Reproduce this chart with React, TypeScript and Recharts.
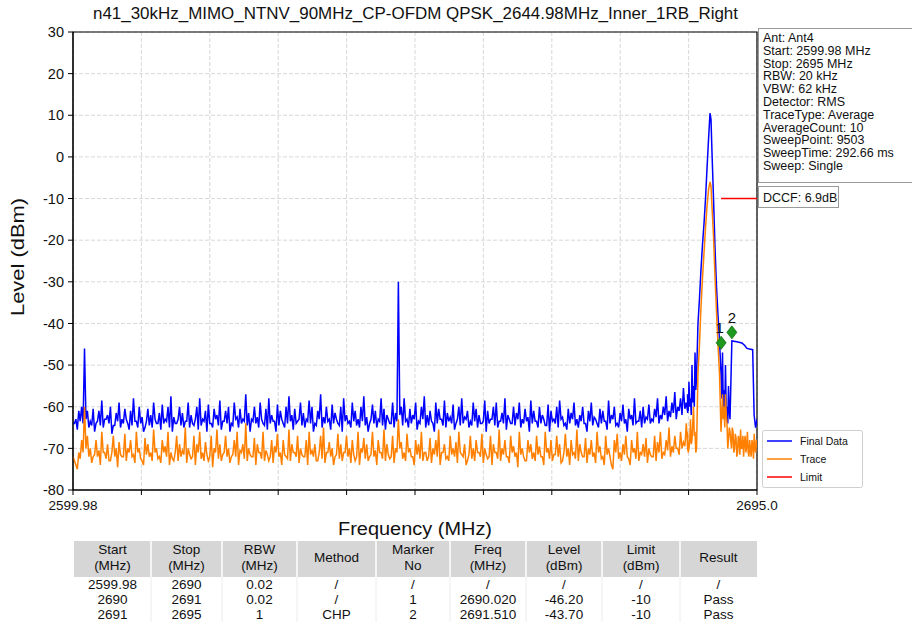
import React from 'react';
import { ComposedChart, Line, Scatter, XAxis, YAxis, CartesianGrid, ReferenceArea } from 'recharts';

const title = 'n41_30kHz_MIMO_NTNV_90MHz_CP-OFDM QPSK_2644.98MHz_Inner_1RB_Right';

// sweep grid of the noise floor part (MHz): each bin has a high and a low reading
const sweepStart = 2599.98;
const sweepStop = 2695;
const floorStep = 0.4;

// Final Data noise floor, bin highs, 2599.98 .. 2685.18 MHz
const blueFloorHi = [
  -64, -63, -61, -60, -46, -61, -63.5, -60.5, -64, -61, -58.5, -63, -62, -60, -64.5, -61.5, -59, -63, -60.5, -64,
  -61, -58, -63.5, -60, -62.5, -65, -60.5, -62, -59, -64, -61.5, -59.5, -63, -60, -57.5, -62.5, -64, -60, -61.5, -63.5,
  -59, -62, -64.5, -60, -58, -63, -61, -59.5, -64, -60.5, -62, -58.5, -63.5, -61, -60, -64, -59, -62.5, -60.5, -63,
  -57, -61.5, -63, -60, -62.5, -59, -64, -60.5, -58, -62, -63.5, -59.5, -61, -64, -60, -57.5, -62, -60.5, -63.5, -59,
  -61.5, -63, -58.5, -60, -64, -61, -57, -62.5, -60, -63, -59.5, -61.5, -64, -60, -58, -62, -63.5, -59, -61, -63,
  -60, -57.5, -62.5, -64, -59.5, -61, -63, -58, -60.5, -62, -64, -59, -61.5, -30, -60, -58, -63, -60.5, -62, -59,
  -63.5, -60, -57.5, -62, -61, -64, -59, -60.5, -63, -58.5, -61.5, -62.5, -59.5, -64, -60, -58, -62.5, -61, -63.5, -59,
  -60.5, -62, -64, -58.5, -61, -63, -60, -59, -63.5, -61.5, -58, -62, -64, -60, -61.5, -59, -63, -60.5, -62.5, -58.5,
  -61, -63.5, -60, -62, -64.5, -59.5, -61, -63, -60, -58.5, -62.5, -64, -60.5, -61.5, -59, -63, -62, -60, -64, -61,
  -59, -62.5, -64, -60.5, -61, -63.5, -58.5, -62, -60, -64, -61.5, -59.5, -63, -60.5, -62, -58, -63.5, -61, -60, -62.5,
  -59.5, -63, -60.5, -58, -62, -60, -57.5, -61, -59, -56.5, -60, -58, -55.5, -59,
];
// Final Data noise floor, bin lows
const blueFloorLo = [
  -64, -65.5, -63.5, -64, -63, -65, -64.5, -66, -63.5, -64.5, -65, -63, -64, -66.5, -64.5, -63.5, -65, -64, -63, -65.5,
  -64.5, -63.5, -65, -64, -66, -63.5, -64.5, -65, -63, -64, -65.5, -64, -63.5, -65, -66, -64, -63, -64.5, -65, -63.5,
  -65, -64, -63, -65.5, -64.5, -63.5, -66, -64, -65, -63, -64.5, -65.5, -63.5, -64, -66, -64.5, -63, -65, -64, -63.5,
  -64.5, -66, -63.5, -64, -65, -63, -64.5, -65.5, -64, -63.5, -66, -64.5, -63, -65, -64, -63.5, -65.5, -64, -63, -64.5,
  -65, -63.5, -64, -66, -64.5, -63, -65, -64, -63.5, -65.5, -64, -63, -64.5, -66, -63.5, -64, -65, -63.5, -64.5, -65,
  -63.5, -64.5, -66, -63, -64, -65, -63.5, -64.5, -65.5, -63, -64, -65, -63.5, -62, -64.5, -63.5, -65, -64, -63, -65.5,
  -64, -63, -65, -64.5, -63.5, -66, -64, -63, -64.5, -65, -63.5, -64, -65.5, -63, -64.5, -64, -63, -65, -64.5, -63.5,
  -65, -64, -63.5, -66, -64, -63, -64.5, -65, -63.5, -64, -65.5, -63, -64, -64.5, -63, -65, -64, -63.5, -66, -64,
  -63.5, -65, -64, -63, -64.5, -66, -63.5, -64, -65, -63, -64.5, -65.5, -64, -63, -64.5, -65, -63.5, -64, -66, -63.5,
  -64.5, -63, -65, -64, -63.5, -65.5, -64, -63, -64.5, -65, -63.5, -64, -66, -63, -64.5, -64, -63.5, -65, -64, -63,
  -64, -63.5, -62.5, -64, -63, -62, -63.5, -62.5, -61.5, -63, -61, -62, -60.5, -61.5,
];

// Trace noise floor, bin highs
const orangeFloorHi = [
  -72, -74, -71, -68, -60, -67, -70, -72, -68, -70.5, -66, -71, -69, -73, -67, -70, -68.5, -72, -66.5, -70,
  -68, -71.5, -66, -70, -73, -67.5, -69, -71, -65.5, -70, -72, -68, -69.5, -66, -71, -73, -67, -69, -70.5, -65,
  -70, -72.5, -67, -69, -66, -71, -68.5, -73, -67, -70, -65.5, -69, -71.5, -67, -70, -72, -68, -66, -70.5, -69,
  -64, -70, -72, -67.5, -69, -71, -66, -70.5, -73, -68, -69.5, -66.5, -71, -68, -72, -65.5, -69, -71, -67, -70,
  -72, -68, -66, -70.5, -69, -73, -67, -65, -71, -68.5, -70, -72, -66.5, -69, -71, -67, -70, -68, -73, -66,
  -70, -67.5, -69, -72, -66, -70.5, -68, -71, -65.5, -69, -72.5, -67, -70, -63, -68.5, -71, -66.5, -70, -72, -68,
  -69, -66, -71, -73, -67.5, -70, -68, -65.5, -71, -69, -72, -67, -70, -68.5, -66, -71.5, -69, -73, -67, -70,
  -68, -71, -66.5, -70, -72.5, -67, -69, -71, -65.5, -70, -68, -72, -67, -69.5, -71, -66, -70, -73, -68, -69,
  -71, -67, -69.5, -72, -66, -70, -68, -71.5, -67, -69, -73, -66.5, -70, -68, -71, -65.5, -69, -72, -67.5, -70,
  -68, -71, -66, -69.5, -72, -67, -70, -74, -68, -66.5, -71, -69, -67, -72.5, -68, -70, -66, -71, -69, -67.5,
  -70, -72, -67, -68.5, -66, -71, -68, -65, -69.5, -67, -70, -66, -68.5, -64,
];
// Trace noise floor, bin lows
const orangeFloorLo = [
  -73, -75, -72.5, -71, -70, -72, -73.5, -71.5, -72, -74, -71, -72.5, -73, -71, -72, -74.5, -71.5, -72, -73, -71,
  -72, -73.5, -71, -72.5, -74, -71.5, -72, -73, -71, -72.5, -73.5, -71, -72, -74, -72.5, -71, -73, -72, -71.5, -73.5,
  -71.5, -72, -74, -71, -72.5, -73, -71.5, -72, -74.5, -71, -72.5, -73, -71, -72, -73.5, -71.5, -72, -74, -71, -72.5,
  -73, -71.5, -72, -74, -71, -72.5, -73, -71.5, -72, -73.5, -71, -72, -74, -71.5, -72.5, -73, -71, -72, -73.5, -71.5,
  -72, -74, -71.5, -72, -73, -71, -72.5, -73.5, -71, -72, -74, -71.5, -72.5, -73, -71, -72, -73.5, -71.5, -72, -74,
  -71, -72.5, -73, -71.5, -72, -74, -71, -72.5, -73, -71.5, -72, -73.5, -71, -70, -72.5, -73, -71, -72, -74, -71.5,
  -72.5, -73, -71, -72, -73.5, -71.5, -72, -74, -71, -72.5, -73, -71.5, -72, -73.5, -71, -72, -74, -71.5, -72.5, -73,
  -71, -72, -73.5, -71.5, -72, -74, -71, -72.5, -73, -71.5, -72, -73.5, -71, -72, -74.5, -71.5, -72, -73, -71, -72.5,
  -73, -71.5, -72, -74, -71, -72.5, -73, -71.5, -72, -73.5, -71, -72, -74, -71.5, -72.5, -73, -71, -72, -73.5, -71.5,
  -72, -73.5, -71, -72.5, -74, -71.5, -72, -75, -71, -72.5, -73, -71.5, -72, -74, -71, -72.5, -73, -71.5, -72, -73.5,
  -71.5, -72, -73, -71, -72.5, -71.5, -70.5, -72, -71, -70, -71.5, -70, -69.5, -70.5,
];

// carrier region
const peakFreq = [
  2685.35, 2685.45, 2685.55, 2685.66, 2685.76, 2685.87, 2685.97, 2686.08, 2686.18, 2686.29,
  2686.39, 2686.5, 2686.6, 2686.8, 2687.01, 2687.22, 2687.43, 2687.64, 2687.85, 2688.05,
  2688.26, 2688.47, 2688.61, 2688.75, 2688.96, 2689.17, 2689.37, 2689.58, 2689.79, 2690.0,
  2690.1, 2690.21, 2690.31, 2690.42, 2690.52, 2690.62, 2690.73, 2690.83, 2690.94, 2691.04,
  2691.15, 2691.25,
];
const bluePeak = [
  -57, -61, -54, -60, -58, -62, -50, -59, -55, -60,
  -47, -56, -53, -40, -34, -27, -21, -16, -10, -3,
  4, 10.5, 9, 1, -10, -22, -31, -38, -44, -52,
  -58, -47, -60, -56, -62, -50, -61, -60, -64, -55,
  -61, -63,
];
const orangePeak = [
  -66, -71, -70, -68, -63, -69, -68, -64, -60, -67,
  -66, -71, -70, -52, -45, -36, -29, -23, -17, -12,
  -8, -6, -7, -12, -19, -29, -37, -45, -52, -66,
  -62, -57, -63, -60, -65, -57, -62, -64, -70, -68,
  -65, -66,
];

const orangeTailFreq = [
  2691.46, 2691.56, 2691.67, 2691.77, 2691.88, 2691.98, 2692.09, 2692.2, 2692.3, 2692.41, 2692.51,
  2692.62, 2692.72, 2692.83, 2692.93, 2693.04, 2693.14, 2693.25, 2693.35, 2693.46, 2693.56, 2693.67,
  2693.77, 2693.88, 2693.98, 2694.09, 2694.19, 2694.3, 2694.4, 2694.51, 2694.61, 2694.72, 2694.82, 2694.92, 2695,
];
const orangeTail = [
  -70, -65, -66, -71, -70, -66.5, -67.5, -72, -71, -67, -68, -71.5, -65.5, -70, -70, -67,
  -72, -68.5, -67, -71, -69.5, -66, -71, -72, -68, -70.5, -72, -68, -69, -72.5, -66.5, -70, -71, -68, -70,
];

// CHP segment of Final Data (RBW 1 MHz)
const chpFreq = [2691.51, 2692.2, 2692.9, 2693.3, 2693.6, 2694.4, 2694.6, 2694.8, 2695];
const chpLevel = [-44.2, -44.4, -44.7, -45.3, -46.0, -46.3, -62, -65, -63];

const limitFreq = [2690, 2695];
const limitLevel = [-10, -10];

const markerNo = ['1', '2'];
const markerFreq = [2690.02, 2691.51];
const markerLevel = [-46.2, -43.7];

const yTicks = [-80, -70, -60, -50, -40, -30, -20, -10, 0, 10, 20, 30];
const xTicks = [2599.98, 2609.482, 2618.984, 2628.486, 2637.988, 2647.49, 2656.992, 2666.494, 2675.996, 2685.498, 2695];
const xTickLabels = ['2599.98', '', '', '', '', '', '', '', '', '', '2695.0'];

const infoLines = [
  'Ant: Ant4',
  'Start: 2599.98 MHz',
  'Stop: 2695 MHz',
  'RBW: 20 kHz',
  'VBW: 62 kHz',
  'Detector: RMS',
  'TraceType: Average',
  'AverageCount: 10',
  'SweepPoint: 9503',
  'SweepTime: 292.66 ms',
  'Sweep: Single',
];
const dccfText = 'DCCF: 6.9dB';

const legendNames = ['Final Data', 'Trace', 'Limit'];
const legendColors = ['#0000ff', '#ff8000', '#ff0000'];

const tableHeader = [
  ['Start', '(MHz)'], ['Stop', '(MHz)'], ['RBW', '(MHz)'], ['Method'], ['Marker', 'No'],
  ['Freq', '(MHz)'], ['Level', '(dBm)'], ['Limit', '(dBm)'], ['Result'],
];
const tableRows = [
  ['2599.98', '2690', '0.02', '/', '/', '/', '/', '/', '/'],
  ['2690', '2691', '0.02', '/', '1', '2690.020', '-46.20', '-10', 'Pass'],
  ['2691', '2695', '1', 'CHP', '2', '2691.510', '-43.70', '-10', 'Pass'],
];

const FONT = '"Liberation Sans", Arial, sans-serif';

// each floor bin -> its high reading, then its low reading half a bin later
const floorPoints = (hi: number[], lo: number[]) =>
  hi.flatMap((v, i) => {
    const f = sweepStart + i * floorStep;
    return [
      { f: +f.toFixed(2), v },
      { f: +(f + floorStep / 2).toFixed(2), v: lo[i] },
    ];
  });

const blueData = [
  ...floorPoints(blueFloorHi, blueFloorLo),
  ...peakFreq.map((f, i) => ({ f, v: bluePeak[i] })),
  ...chpFreq.map((f, i) => ({ f, v: chpLevel[i] })),
];
const orangeData = [
  ...floorPoints(orangeFloorHi, orangeFloorLo),
  ...peakFreq.map((f, i) => ({ f, v: orangePeak[i] })),
  ...orangeTailFreq.map((f, i) => ({ f, v: orangeTail[i] })),
];
const limitData = limitFreq.map((f, i) => ({ f, v: limitLevel[i] }));
const markerData = markerFreq.map((f, i) => ({ f, v: markerLevel[i], n: markerNo[i] }));

// diamond sits with its lower tip on the marker value
const MarkerShape = (props: any) => {
  const { cx, cy, payload } = props;
  if (cx == null || cy == null) return null;
  const dx = payload.n === '1' ? -1.5 : 0;
  return (
    <g>
      <polygon
        points={`${cx},${cy - 13} ${cx + 5},${cy - 6.5} ${cx},${cy} ${cx - 5},${cy - 6.5}`}
        fill="#1f9a1f"
        stroke="#127012"
        strokeWidth={0.8}
      />
      <text x={cx + dx} y={cy - 16} textAnchor="middle" fontSize={15} fontFamily={FONT} fill="#111">
        {payload.n}
      </text>
    </g>
  );
};

const colEdges = [74, 151, 222, 297, 376, 450, 526, 602, 680, 757];

const Overlay = () => (
  <svg width={912} height={631} style={{ position: 'absolute', left: 0, top: 0, pointerEvents: 'none' }}>
    <g fontFamily={FONT} fill="#111">
      <text x={415.5} y={19} textAnchor="middle" fontSize={16} textLength={645} lengthAdjust="spacingAndGlyphs">
        {title}
      </text>
      <text x={415} y={535} textAnchor="middle" fontSize={18} textLength={154} lengthAdjust="spacingAndGlyphs">
        Frequency (MHz)
      </text>
      <text
        transform="translate(24,257) rotate(-90)"
        textAnchor="middle"
        fontSize={18}
        textLength={118}
        lengthAdjust="spacingAndGlyphs"
      >
        Level (dBm)
      </text>

      {/* settings box */}
      <rect x={758.5} y={28.5} width={160} height={154} fill="#fff" stroke="#9a9a9a" />
      {infoLines.map((s, i) => (
        <text key={s} x={763} y={42 + i * 12.8} fontSize={12.5}>
          {s}
        </text>
      ))}
      <rect x={758.5} y={186.5} width={80} height={21} fill="#fff" stroke="#9a9a9a" />
      <text x={763} y={202} fontSize={12.5}>
        {dccfText}
      </text>

      {/* legend */}
      <rect x={762.5} y={430.5} width={100} height={57} rx={2} fill="#fff" stroke="#cfcfcf" />
      {legendNames.map((s, i) => (
        <g key={s}>
          <line x1={767} x2={792} y1={441 + i * 18} y2={441 + i * 18} stroke={legendColors[i]} strokeWidth={1.5} />
          <text x={800} y={445 + i * 18} fontSize={10.5}>
            {s}
          </text>
        </g>
      ))}

      {/* result table */}
      <rect x={colEdges[0]} y={541} width={colEdges[9] - colEdges[0]} height={36} fill="#d6d6d6" />
      {colEdges.slice(1, -1).map((x) => (
        <g key={x}>
          <line x1={x} x2={x} y1={541} y2={577} stroke="#fff" strokeWidth={1.5} />
          <line x1={x} x2={x} y1={577} y2={622} stroke="#ececec" strokeWidth={1} />
        </g>
      ))}
      {tableHeader.map((lines, c) => {
        const cx = (colEdges[c] + colEdges[c + 1]) / 2;
        return lines.length === 2 ? (
          <g key={c}>
            <text x={cx} y={554} textAnchor="middle" fontSize={13.5}>{lines[0]}</text>
            <text x={cx} y={570} textAnchor="middle" fontSize={13.5}>{lines[1]}</text>
          </g>
        ) : (
          <text key={c} x={cx} y={562} textAnchor="middle" fontSize={13.5}>{lines[0]}</text>
        );
      })}
      {tableRows.map((row, r) =>
        row.map((cell, c) => (
          <text
            key={`${r}-${c}`}
            x={(colEdges[c] + colEdges[c + 1]) / 2}
            y={589 + r * 15}
            textAnchor="middle"
            fontSize={13.5}
          >
            {cell}
          </text>
        )),
      )}
    </g>
  </svg>
);

export default function App() {
  return (
    <div style={{ position: 'absolute', left: 0, top: 0, width: 912, height: 631, background: '#fff', fontFamily: FONT, overflow: 'hidden' }}>
      <ComposedChart width={912} height={631} margin={{ top: 32, right: 155, bottom: 111, left: 13 }}>
        <CartesianGrid stroke="#d8d8d8" strokeDasharray="4 2" />
        <XAxis
          type="number"
          dataKey="f"
          domain={[sweepStart, sweepStop]}
          ticks={xTicks}
          allowDataOverflow
          height={30}
          tickSize={5}
          tickMargin={5}
          stroke="#000"
          tick={{ fontSize: 13.5, fill: '#111', fontFamily: FONT }}
          tickFormatter={(v: number) => xTickLabels[xTicks.indexOf(v)] ?? ''}
        />
        <YAxis
          type="number"
          domain={[-80, 30]}
          ticks={yTicks}
          allowDataOverflow
          width={60}
          tickSize={5}
          tickMargin={4}
          stroke="#000"
          tick={{ fontSize: 14.5, fill: '#111', fontFamily: FONT }}
        />
        <ReferenceArea x1={sweepStart} x2={sweepStop} y1={-80} y2={30} fill="none" stroke="#000" strokeWidth={1.2} />
        <Line data={blueData} dataKey="v" type="linear" stroke="#0000ff" strokeWidth={1.5} strokeLinejoin="miter" dot={false} activeDot={false} isAnimationActive={false} />
        <Line data={orangeData} dataKey="v" type="linear" stroke="#ff8000" strokeWidth={1.5} strokeLinejoin="miter" dot={false} activeDot={false} isAnimationActive={false} />
        <Line data={limitData} dataKey="v" type="linear" stroke="#ff0000" strokeWidth={1.5} dot={false} activeDot={false} isAnimationActive={false} />
        <Scatter data={markerData} dataKey="v" shape={<MarkerShape />} isAnimationActive={false} />
      </ComposedChart>
      <Overlay />
    </div>
  );
}
